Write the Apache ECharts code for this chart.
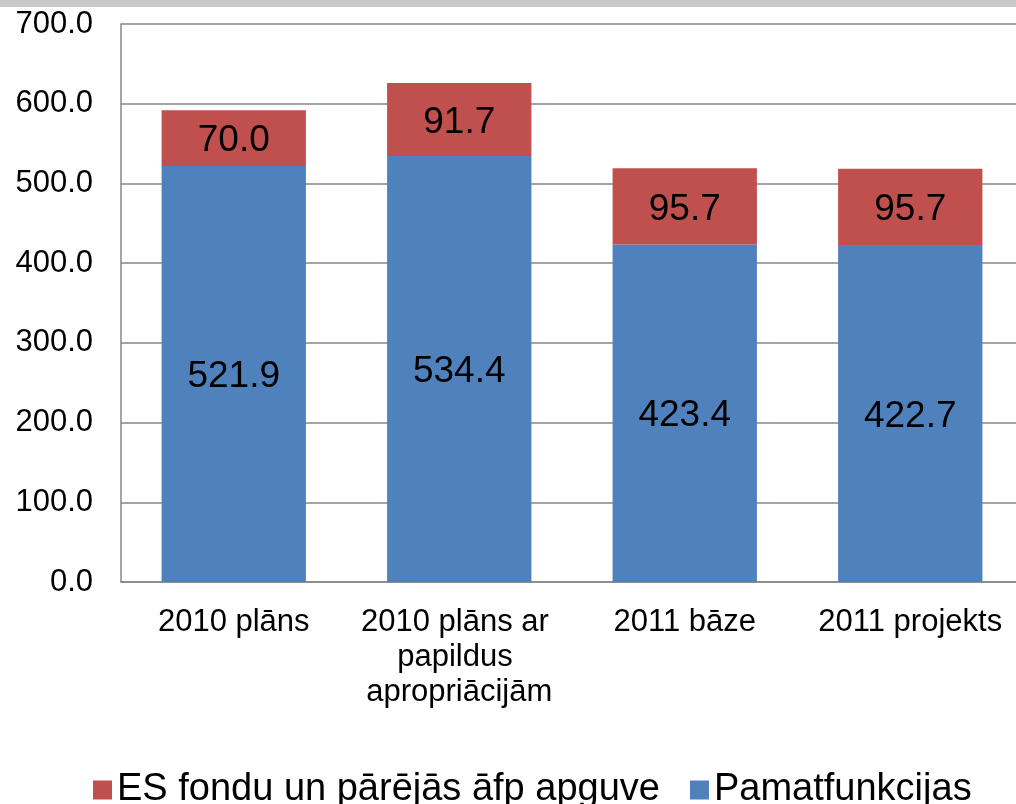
<!DOCTYPE html>
<html>
<head>
<meta charset="utf-8">
<script src="https://cdn.jsdelivr.net/npm/echarts@6/dist/echarts.min.js"></script>
<style>
html,body{margin:0;padding:0;background:#fff;}
#chart{width:1016px;height:804px;}
</style>
</head>
<body>
<div id="chart"></div>
<script>
var categories = ["2010 plāns", "2010 plāns ar papildus apropriācijām", "2011 bāze", "2011 projekts"];
var pamatfunkcijas = [521.9, 534.4, 423.4, 422.7];
var esFondi = [70.0, 91.7, 95.7, 95.7];
var yTicks = [0, 700, 100]; // min, max, step

var font = "Liberation Sans, Arial, sans-serif";
var gridColor = "#878787";

var chart = echarts.init(document.getElementById("chart"));
var labelInside = {
	show: true,
	position: "inside",
	offset: [0, 3],
	color: "#000",
	fontSize: 37,
	fontFamily: font,
	formatter: function(p){ return p.value.toFixed(1); }
};
chart.setOption({
	animation: false,
	graphic: [{
		type: "rect",
		shape: {x: 0, y: 0, width: 1016, height: 7},
		style: {fill: "#c8c8c8"}
	}],
	// plot runs a bit past the right edge, as in the source picture
	grid: {left: 121, width: 902, top: 24, height: 558, outerBoundsMode: "none", containLabel: false},
	legend: {
		bottom: -10,
		left: 88,
		data: ["ES fondu un pārējās āfp apguve", "Pamatfunkcijas"],
		icon: "rect",
		itemWidth: 19,
		itemHeight: 19,
		itemGap: 30,
		textStyle: {fontSize: 38, fontFamily: font, color: "#000"}
	},
	xAxis: {
		type: "category",
		data: categories,
		axisLine: {lineStyle: {color: gridColor, width: 1.5}},
		axisTick: {show: false},
		axisLabel: {
			color: "#000", fontSize: 31, fontFamily: font, lineHeight: 35,
			margin: 23, width: 215, overflow: "break", interval: 0
		}
	},
	yAxis: {
		type: "value",
		min: yTicks[0], max: yTicks[1], interval: yTicks[2],
		axisLine: {show: true, lineStyle: {color: gridColor, width: 1.5}},
		axisTick: {show: false},
		splitLine: {lineStyle: {color: gridColor, width: 1.5}},
		axisLabel: {
			color: "#000", fontSize: 31, fontFamily: font, margin: 28,
			formatter: function(v){ return v.toFixed(1); }
		}
	},
	series: [{
		name: "Pamatfunkcijas",
		type: "bar",
		stack: "total",
		data: pamatfunkcijas,
		barCategoryGap: "36%",
		itemStyle: {color: "#4f81bd"},
		label: labelInside
	}, {
		name: "ES fondu un pārējās āfp apguve",
		type: "bar",
		stack: "total",
		data: esFondi,
		itemStyle: {color: "#c0504d"},
		label: labelInside
	}]
});
</script>
</body>
</html>
